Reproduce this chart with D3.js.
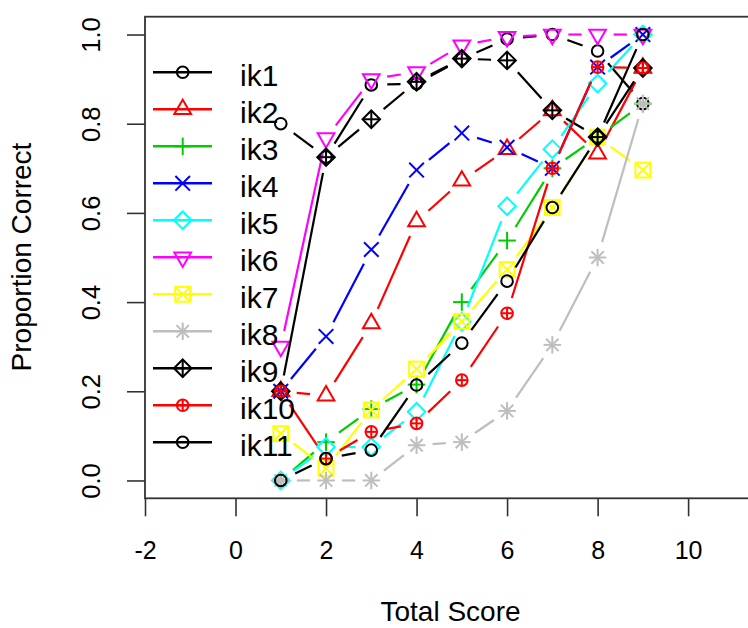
<!DOCTYPE html>
<html>
<head>
<meta charset="utf-8">
<script src="https://cdn.jsdelivr.net/npm/d3@7"></script>
<style>
  html, body { margin: 0; padding: 0; background: #ffffff; }
  svg { display: block; }
  text { font-family: "Liberation Sans", Arial, sans-serif; fill: #000; }
</style>
</head>
<body>
<svg id="chart" width="748" height="628"></svg>
<script>
// ---- data ----
const scores = [1, 2, 3, 4, 5, 6, 7, 8, 9];
const itemNames = ["ik1", "ik2", "ik3", "ik4", "ik5", "ik6", "ik7", "ik8", "ik9", "ik10", "ik11"];
const ik1  = [0.80, 0.725, 0.887, 0.890, 0.945, 0.990, 1.000, 0.963, 0.845];
const ik2  = [0.20, 0.190, 0.352, 0.581, 0.672, 0.743, 0.830, 0.733, 0.925];
const ik3  = [0.00, 0.086, 0.160, 0.215, 0.400, 0.538, 0.700, 0.770, 0.845];
const ik4  = [0.20, 0.323, 0.518, 0.696, 0.779, 0.747, 0.700, 0.927, 1.000];
const ik5  = [0.00, 0.075, 0.075, 0.154, 0.356, 0.615, 0.743, 0.890, 1.000];
const ik6  = [0.30, 0.768, 0.900, 0.916, 0.976, 0.995, 1.000, 1.000, 1.000];
const ik7  = [0.105, 0.027, 0.158, 0.250, 0.357, 0.473, 0.612, 0.770, 0.696];
const ik8  = [0.00, 0.000, 0.000, 0.079, 0.086, 0.156, 0.304, 0.500, 0.845];
const ik9  = [0.20, 0.725, 0.810, 0.894, 0.946, 0.942, 0.830, 0.770, 0.925];
const ik10 = [0.20, 0.049, 0.109, 0.128, 0.225, 0.375, 0.700, 0.927, 0.925];
const ik11 = [0.00, 0.049, 0.068, 0.214, 0.308, 0.447, 0.612, 0.770, 1.000];
const seriesValues = [ik1, ik2, ik3, ik4, ik5, ik6, ik7, ik8, ik9, ik10, ik11];
const seriesColors = ["#000000", "#FF0000", "#00CD00", "#0000FF", "#00FFFF", "#FF00FF",
                      "#FFFF00", "#BEBEBE", "#000000", "#FF0000", "#000000"];
const seriesSymbols = [1, 2, 3, 4, 5, 6, 7, 8, 9, 10, 1];
const xTicks = [-2, 0, 2, 4, 6, 8, 10];
const xTickLabels = ["-2", "0", "2", "4", "6", "8", "10"];
const yTicks = [0, 0.2, 0.4, 0.6, 0.8, 1.0];
const yTickLabels = ["0.0", "0.2", "0.4", "0.6", "0.8", "1.0"];
const xLabel = "Total Score";
const yLabel = "Proportion Correct";

// ---- layout ----
const svg = d3.select("#chart");
svg.append("rect").attr("x", 0).attr("y", 0).attr("width", 748).attr("height", 628).attr("fill", "#fff");

const plotLeft = 145, plotRight = 756, plotTop = 16.7, plotBottom = 498.3;
const x = d3.scaleLinear().domain([-2, 11.5]).range([plotLeft, plotRight]);
const y = d3.scaleLinear().domain([-0.04, 1.04]).range([plotBottom, plotTop]);

// axes
const xAxis = svg.append("g")
  .attr("transform", `translate(0,${plotBottom})`)
  .call(d3.axisBottom(x).tickValues(xTicks).tickSize(18)
    .tickFormat((d, i) => xTickLabels[i]));
xAxis.select(".domain").remove();
xAxis.selectAll(".tick line").attr("stroke", "#333").attr("stroke-width", 1.6);
xAxis.selectAll(".tick text")
  .attr("y", 61).attr("dy", 0)
  .style("font-size", "25px")
  .style("font-family", "'Liberation Sans', Arial, sans-serif")
  .attr("fill", "#000");

const yAxis = svg.append("g")
  .attr("transform", `translate(${plotLeft},0)`)
  .call(d3.axisLeft(y).tickValues(yTicks).tickSize(18)
    .tickFormat((d, i) => yTickLabels[i]));
yAxis.select(".domain").remove();
yAxis.selectAll(".tick line").attr("stroke", "#333").attr("stroke-width", 1.6);
yAxis.selectAll(".tick text")
  .attr("transform", "rotate(-90)")
  .attr("x", 0).attr("y", -45).attr("dy", 0)
  .attr("text-anchor", "middle")
  .style("font-size", "25.5px")
  .style("font-family", "'Liberation Sans', Arial, sans-serif")
  .attr("fill", "#000");

// axis titles
svg.append("text")
  .attr("x", (plotLeft + plotRight) / 2).attr("y", 621)
  .attr("text-anchor", "middle")
  .style("font-size", "28px")
  .text(xLabel);
svg.append("text")
  .attr("transform", `translate(31,257) rotate(-90)`)
  .attr("text-anchor", "middle")
  .style("font-size", "28px")
  .text(yLabel);

// ---- marks ----
const R = 6.2;
function drawMarker(g, pch, cx, cy, color) {
  const m = g.append("g")
    .attr("transform", `translate(${cx},${cy})`)
    .attr("stroke", color).attr("fill", "none").attr("stroke-width", 2);
  const line = (x1, y1, x2, y2) => m.append("line").attr("x1", x1).attr("y1", y1).attr("x2", x2).attr("y2", y2);
  const d = Math.SQRT2 * R;
  switch (pch) {
    case 1:
      m.append("circle").attr("r", 5.8);
      break;
    case 2:
      m.append("polygon").attr("points", `0,${-1.555 * R} ${1.347 * R},${0.778 * R} ${-1.347 * R},${0.778 * R}`);
      break;
    case 3:
      line(-d, 0, d, 0); line(0, -d, 0, d);
      break;
    case 4:
      line(-7.3, -7.3, 7.3, 7.3); line(-7.3, 7.3, 7.3, -7.3);
      break;
    case 5:
      m.append("polygon").attr("points", `0,${-d} ${d},0 0,${d} ${-d},0`);
      break;
    case 6:
      m.append("polygon").attr("points", `0,${1.555 * R} ${1.347 * R},${-0.778 * R} ${-1.347 * R},${-0.778 * R}`);
      break;
    case 7:
      m.append("rect").attr("x", -7.4).attr("y", -7.4).attr("width", 14.8).attr("height", 14.8);
      line(-7.4, -7.4, 7.4, 7.4); line(-7.4, 7.4, 7.4, -7.4);
      break;
    case 8:
      line(-R, -R, R, R); line(-R, R, R, -R);
      line(-d, 0, d, 0); line(0, -d, 0, d);
      break;
    case 9:
      m.append("polygon").attr("points", `0,${-d} ${d},0 0,${d} ${-d},0`);
      line(-d, 0, d, 0); line(0, -d, 0, d);
      break;
    case 10:
      m.append("circle").attr("r", 5.8);
      line(-5.8, 0, 5.8, 0); line(0, -5.8, 0, 5.8);
      break;
  }
}

const gap = 16;
const plotG = svg.append("g");
seriesValues.forEach((vals, si) => {
  const col = seriesColors[si];
  const pts = scores.map((s, i) => [x(s), y(vals[i])]);
  const g = plotG.append("g");
  for (let i = 1; i < pts.length; i++) {
    const [x0, y0] = pts[i - 1], [x1, y1] = pts[i];
    const len = Math.hypot(x1 - x0, y1 - y0);
    if (len > 2 * gap) {
      const dx = (x1 - x0) * gap / len, dy = (y1 - y0) * gap / len;
      g.append("line")
        .attr("x1", x0 + dx).attr("y1", y0 + dy)
        .attr("x2", x1 - dx).attr("y2", y1 - dy)
        .attr("stroke", col).attr("stroke-width", 2.2);
    }
  }
  pts.forEach(([px, py]) => drawMarker(g, seriesSymbols[si], px, py, col));
});

// box
svg.append("rect")
  .attr("x", plotLeft).attr("y", plotTop)
  .attr("width", plotRight - plotLeft).attr("height", plotBottom - plotTop)
  .attr("fill", "none").attr("stroke", "#333").attr("stroke-width", 1.8);

// ---- legend ----
const legend = svg.append("g");
itemNames.forEach((name, i) => {
  const ly = 72.3 + 37 * i;
  legend.append("line")
    .attr("x1", 153).attr("x2", 212).attr("y1", ly).attr("y2", ly)
    .attr("stroke", seriesColors[i]).attr("stroke-width", 2.4);
  drawMarker(legend, seriesSymbols[i], 182.7, ly, seriesColors[i]);
  legend.append("text")
    .attr("x", 240).attr("y", ly + 14)
    .style("font-size", "30px")
    .text(name);
});
</script>
</body>
</html>
